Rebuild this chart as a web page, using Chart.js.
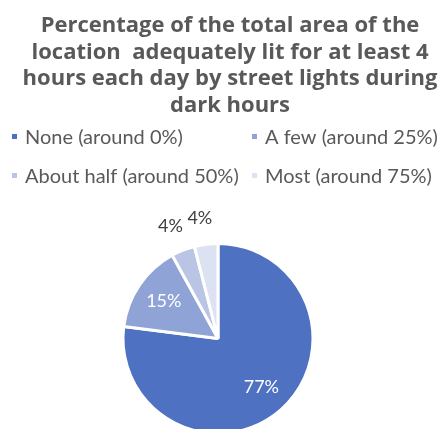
<!DOCTYPE html>
<html>
<head>
<meta charset="utf-8">
<script src="https://cdn.jsdelivr.net/npm/chart.js@4"></script>
<style>
  html, body { margin: 0; padding: 0; background: #fff; }
  #wrap { width: 443px; height: 429px; overflow: hidden; }
</style>
</head>
<body>
<div id="wrap"><canvas id="lit-chart" width="443" height="450"></canvas></div>
<script>
const titleLines = [
    'Percentage of the total area of the',
    'location  adequately lit for at least 4',
    'hours each day by street lights during',
    'dark hours'
];
const categories = ['None (around 0%)', 'A few (around 25%)', 'About half (around 50%)', 'Most (around 75%)'];
const shares = [77, 15, 4, 4];
const sliceColors = ['#4f71c2', '#8fa3d7', '#bac5e5', '#dce2f2'];

// Title block, centred a little right of the pie
const titleBlock = {
    id: 'titleBlock',
    afterDraw(chart) {
        const ctx = chart.ctx;
        ctx.save();
        ctx.font = 'bold 22px "Open Sans"';
        ctx.fillStyle = '#595959';
        ctx.textAlign = 'center';
        ctx.textBaseline = 'alphabetic';
        titleLines.forEach((line, i) => ctx.fillText(line, 230, 32 + i * 26.7));
        ctx.restore();
    }
};

// Two-column legend under the title
const gridLegend = {
    id: 'gridLegend',
    afterDraw(chart) {
        const ctx = chart.ctx;
        ctx.save();
        ctx.font = '20px Lato';
        ctx.textBaseline = 'alphabetic';
        ctx.textAlign = 'left';
        categories.forEach((label, i) => {
            const x = i % 2 === 0 ? 12 : 252;
            const y = i < 2 ? 144 : 183;
            ctx.fillStyle = sliceColors[i];
            ctx.fillRect(x, y - 10, 5, 5);
            ctx.fillStyle = '#595959';
            ctx.fillText(label, x + 13, y);
        });
        ctx.restore();
    }
};

// Percent labels: inside for big slices, outside for thin ones
const sliceLabels = {
    id: 'sliceLabels',
    afterDatasetsDraw(chart) {
        const ctx = chart.ctx;
        const meta = chart.getDatasetMeta(0);
        ctx.save();
        ctx.font = '18px Lato';
        ctx.textAlign = 'center';
        ctx.textBaseline = 'middle';
        meta.data.forEach((arc, i) => {
            const mid = (arc.startAngle + arc.endAngle) / 2;
            const text = shares[i] + '%';
            const inside = shares[i] >= 10;
            const d = inside ? arc.outerRadius * 0.69 : arc.outerRadius + 26;
            const shift = inside ? 0 : -3;
            ctx.fillStyle = inside ? '#ffffff' : '#404040';
            ctx.fillText(text, arc.x + Math.cos(mid) * d + shift, arc.y + Math.sin(mid) * d);
        });
        ctx.restore();
    }
};

new Chart(document.getElementById('lit-chart'), {
    type: 'pie',
    data: {
        labels: categories,
        datasets: [{
            data: shares,
            backgroundColor: sliceColors,
            borderColor: '#ffffff',
            borderWidth: 3
        }]
    },
    options: {
        responsive: false,
        animation: false,
        layout: { padding: { left: 0, right: 7, top: 242, bottom: 15 } },
        plugins: {
            legend: { display: false },
            tooltip: { enabled: false },
            title: { display: false }
        }
    },
    plugins: [titleBlock, gridLegend, sliceLabels]
});
</script>
</body>
</html>
